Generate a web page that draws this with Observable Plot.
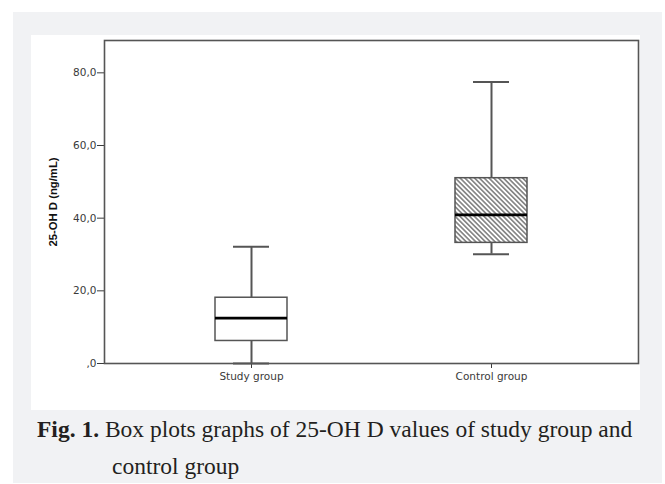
<!DOCTYPE html>
<html><head><meta charset="utf-8">
<script src="https://cdn.jsdelivr.net/npm/d3@7"></script>
<script src="https://cdn.jsdelivr.net/npm/@observablehq/plot@0.6"></script>
<style>
html,body{margin:0;padding:0;background:#fff;width:665px;height:484px;overflow:hidden}
#grey{position:absolute;left:13px;top:12px;width:649px;height:471px;background:#f1f2f4}
#panel{position:absolute;left:31px;top:35px;width:609px;height:375px;background:#fff}
#panel svg{display:block}
.cap{position:absolute;font-family:"Liberation Serif","Times New Roman",serif;font-size:23.5px;line-height:23.5px;color:#231f20;white-space:nowrap}
</style></head><body>
<div id="grey"></div>
<div id="panel"></div>
<div class="cap" style="left:37px;top:418px"><b>Fig. 1.</b> Box plots graphs of 25-OH D values of study group and</div>
<div class="cap" style="left:112px;top:455px">control group</div>
<script>
const groups = ["Study group", "Control group"];
const minValues = [0, 30.1];
const q1Values = [6.2, 33.2];
const medianValues = [12.5, 40.9];
const q3Values = [18.1, 51.0];
const maxValues = [32.1, 77.5];
const yTicks = [0, 20, 40, 60, 80];
const yTickLabels = [",0", "20,0", "40,0", "60,0", "80,0"];
const yLabel = "25-OH D (ng/mL)";

const data = groups.map((g, i) => ({group: g, min: minValues[i], q1: q1Values[i], median: medianValues[i], q3: q3Values[i], max: maxValues[i]}));

const hatchDefs = () => {
  const defs = document.createElementNS("http://www.w3.org/2000/svg", "defs");
  defs.innerHTML = `<pattern id="hatch" patternUnits="userSpaceOnUse" width="3.4" height="3.4" patternTransform="rotate(-45)"><rect width="3.4" height="3.4" fill="#ffffff"/><line x1="1.7" y1="0" x2="1.7" y2="3.4" stroke="#555" stroke-width="1.2"/></pattern>`;
  return defs;
};

const chart = Plot.plot({
  width: 609,
  height: 375,
  marginLeft: 73,
  marginRight: 2,
  marginTop: 5,
  marginBottom: 47,
  style: {fontFamily: "'DejaVu Sans', sans-serif", fontSize: "10.5px", color: "#3a3a3a", background: "white"},
  x: {domain: groups, paddingInner: 0.698, paddingOuter: 0.461, tickSize: 5, tickPadding: 4, label: null},
  y: {domain: [0, 88.9], ticks: yTicks, tickFormat: d => yTickLabels[yTicks.indexOf(d)], tickSize: 7, tickPadding: 1, label: null},
  marks: [
    hatchDefs,
    Plot.ruleX(data, {x: "group", y1: "min", y2: "q1", stroke: "#555", strokeWidth: 2}),
    Plot.ruleX(data, {x: "group", y1: "q3", y2: "max", stroke: "#555", strokeWidth: 2}),
    Plot.tickY(data, {x: "group", y: "min", stroke: "#555", strokeWidth: 2, insetLeft: 18, insetRight: 18}),
    Plot.tickY(data, {x: "group", y: "max", stroke: "#555", strokeWidth: 2, insetLeft: 18, insetRight: 18}),
    Plot.barY(data.filter(d => d.group === groups[0]), {x: "group", y1: "q1", y2: "q3", fill: "white", stroke: "#555", strokeWidth: 1.5}),
    Plot.barY(data.filter(d => d.group === groups[1]), {x: "group", y1: "q1", y2: "q3", fill: "url(#hatch)", stroke: "#555", strokeWidth: 1.5}),
    Plot.tickY(data, {x: "group", y: "median", stroke: "#000", strokeWidth: 2.8}),
    Plot.frame({stroke: "#555", strokeWidth: 1.6}),
    Plot.text([yLabel], {frameAnchor: "left", dx: -51, rotate: -90, textAnchor: "middle", text: d => d, fontFamily: "'Liberation Sans', Arial, sans-serif", fontWeight: "bold", fontSize: 11.3, fill: "#111"})
  ]
});
document.getElementById("panel").appendChild(chart);
</script>
</body></html>
